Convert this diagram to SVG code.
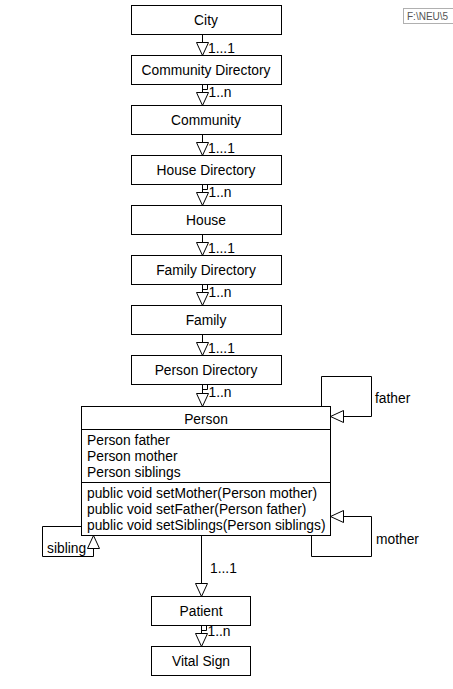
<svg xmlns="http://www.w3.org/2000/svg" width="453" height="689" viewBox="0 0 453 689">
<style>
  .box { fill: #fff; stroke: #000; stroke-width: 1; }
  .t { font-family: "Liberation Sans", Arial, sans-serif; font-size: 13.8px; fill: #000; }
  .c { text-anchor: middle; }
  .ln { fill: none; stroke: #000; stroke-width: 1; }
  .arr { marker-end: url(#tri); }
</style>
<defs>
  <marker id="tri" viewBox="-1 -1 15 14" refX="13" refY="6" markerWidth="15" markerHeight="14" markerUnits="userSpaceOnUse" orient="auto" overflow="visible">
    <path d="M0,0 L13,6 L0,12 Z" fill="#fff" stroke="#000" stroke-width="1"/>
  </marker>
</defs>
<rect width="453" height="689" fill="#fff"/>

<g id="path-label">
  <rect x="403.5" y="8.5" width="60" height="15" fill="#fff" stroke="#b0b0b0"/>
  <text x="407" y="20" font-family="Liberation Sans, Arial, sans-serif" font-size="10" fill="#555">F:\NEU\5</text>
</g>

<g id="connectors">
  <path class="ln arr" d="M202.5,34.5 V55.5"/>
  <path class="ln arr" d="M202.5,84.5 V105.5"/>
  <path class="ln" d="M202.5,89.5 H207.5 V84.5"/>
  <path class="ln arr" d="M202.5,134.5 V155.5"/>
  <path class="ln arr" d="M202.5,184.5 V205.5"/>
  <path class="ln" d="M202.5,189.5 H207.5 V184.5"/>
  <path class="ln arr" d="M202.5,234.5 V255.5"/>
  <path class="ln arr" d="M202.5,284.5 V305.5"/>
  <path class="ln" d="M202.5,289.5 H207.5 V284.5"/>
  <path class="ln arr" d="M202.5,334.5 V355.5"/>
  <path class="ln arr" d="M202.5,384.5 V406.5"/>
  <path class="ln" d="M202.5,389.5 H207.5 V384.5"/>
  <path class="ln arr" d="M321.5,406.5 V376.5 H371.5 V416.5 H330.5"/>
  <path class="ln arr" d="M311.5,535.5 V556.5 H371.5 V516.5 H330.5"/>
  <path class="ln arr" d="M81.5,526.5 H42.5 V556.5 H93.5 V535.5"/>
  <path class="ln arr" d="M201.5,535.5 V596.5"/>
  <path class="ln arr" d="M201.5,625.5 V646.5"/>
  <path class="ln" d="M201.5,630.5 H206.5 V625.5"/>
  <text class="t" x="208" y="53">1...1</text>
  <text class="t" x="208.5" y="97">1..n</text>
  <text class="t" x="208" y="153">1...1</text>
  <text class="t" x="208.5" y="197">1..n</text>
  <text class="t" x="208" y="253">1...1</text>
  <text class="t" x="208.5" y="297">1..n</text>
  <text class="t" x="208" y="353">1...1</text>
  <text class="t" x="208.5" y="397">1..n</text>
  <text class="t" x="375" y="403">father</text>
  <text class="t" x="376" y="544">mother</text>
  <text class="t" x="47" y="553">sibling</text>
  <text class="t" x="210" y="573">1...1</text>
  <text class="t" x="207.5" y="636">1..n</text>
</g>

<g id="city"><rect class="box" x="131.5" y="5.5" width="150" height="29"/><text class="t c" x="206" y="24.5">City</text></g>
<g id="community-directory"><rect class="box" x="131.5" y="55.5" width="150" height="29"/><text class="t c" x="206" y="74.5">Community Directory</text></g>
<g id="community"><rect class="box" x="131.5" y="105.5" width="150" height="29"/><text class="t c" x="206" y="124.5">Community</text></g>
<g id="house-directory"><rect class="box" x="131.5" y="155.5" width="150" height="29"/><text class="t c" x="206" y="174.5">House Directory</text></g>
<g id="house"><rect class="box" x="131.5" y="205.5" width="150" height="29"/><text class="t c" x="206" y="224.5">House</text></g>
<g id="family-directory"><rect class="box" x="131.5" y="255.5" width="150" height="29"/><text class="t c" x="206" y="274.5">Family Directory</text></g>
<g id="family"><rect class="box" x="131.5" y="305.5" width="150" height="29"/><text class="t c" x="206" y="324.5">Family</text></g>
<g id="person-directory"><rect class="box" x="131.5" y="355.5" width="150" height="29"/><text class="t c" x="206" y="374.5">Person Directory</text></g>

<g id="person">
  <rect class="box" x="81.5" y="406.5" width="249" height="129"/>
  <path class="ln" d="M81.5,429.5 H330.5 M81.5,482.5 H330.5"/>
  <text class="t c" x="206" y="424">Person</text>
  <text class="t" x="87" y="445">Person father</text>
  <text class="t" x="87" y="461">Person mother</text>
  <text class="t" x="87" y="477">Person siblings</text>
  <text class="t" x="87" y="498">public void setMother(Person mother)</text>
  <text class="t" x="87" y="514">public void setFather(Person father)</text>
  <text class="t" x="87" y="530">public void setSiblings(Person siblings)</text>
</g>

<g id="patient"><rect class="box" x="151.5" y="596.5" width="99" height="29"/><text class="t c" x="201" y="615.5">Patient</text></g>
<g id="vital-sign"><rect class="box" x="151.5" y="646.5" width="99" height="29"/><text class="t c" x="201" y="665.5">Vital Sign</text></g>
</svg>
